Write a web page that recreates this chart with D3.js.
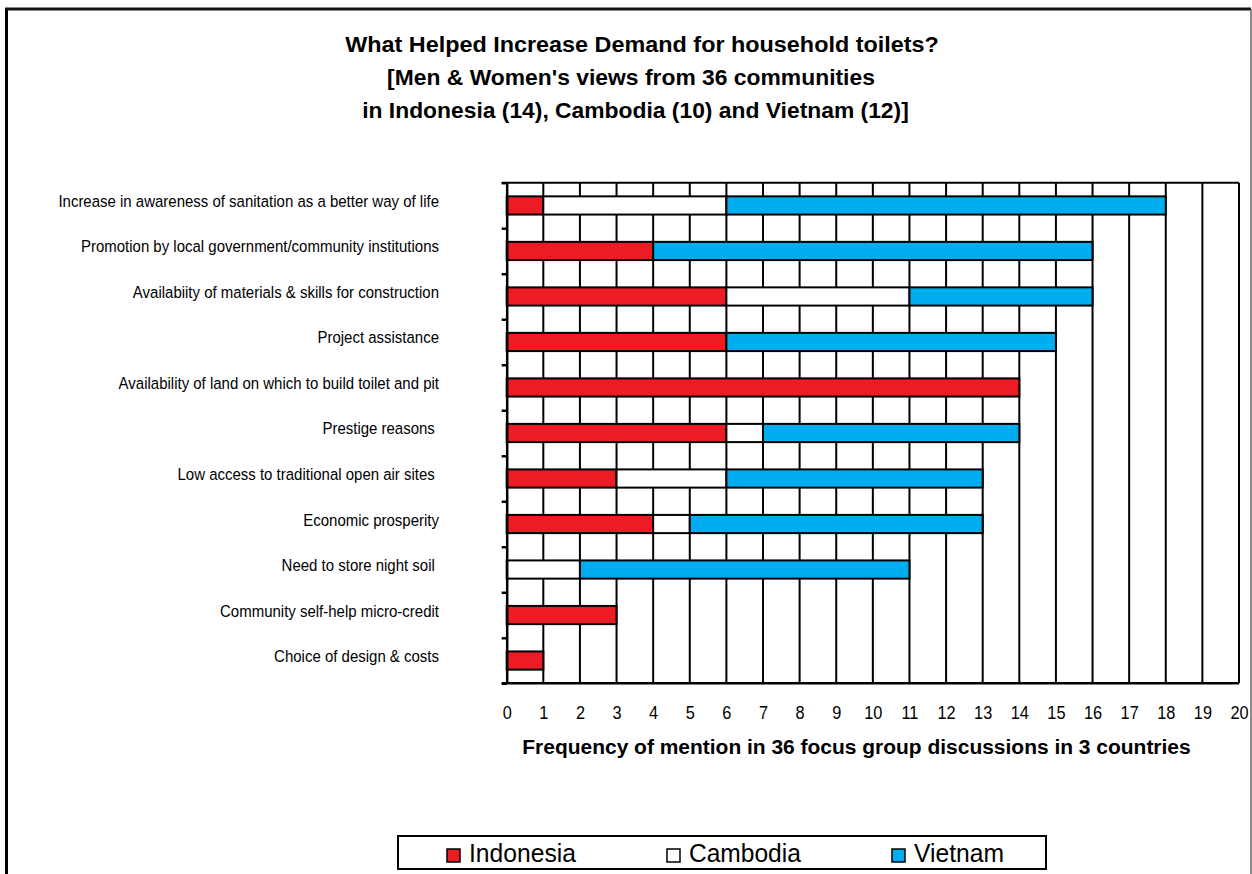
<!DOCTYPE html>
<html>
<head>
<meta charset="utf-8">
<script src="https://cdn.jsdelivr.net/npm/d3@7"></script>
<style>
  body { margin: 0; background: #fff; }
  svg { display: block; font-family: "Liberation Sans", Arial, sans-serif; }
  text { white-space: pre; }
</style>
</head>
<body>
<svg width="1252" height="874"></svg>
<script>
const categories = [
    "Increase in awareness of sanitation as a better way of life",
    "Promotion by local government/community institutions",
    "Availabiity of materials & skills for construction",
    "Project assistance",
    "Availability of land on which to build toilet and pit",
    "Prestige reasons ",
    "Low access to traditional open air sites ",
    "Economic prosperity",
    "Need to store night soil ",
    "Community self-help micro-credit",
    "Choice of design & costs"
]
const indonesia = [1, 4, 6, 6, 14, 6, 3, 4, 0, 3, 1]
const cambodia  = [5, 0, 5, 0, 0, 1, 3, 1, 2, 0, 0]
const vietnam   = [12, 12, 5, 9, 0, 7, 7, 8, 9, 0, 0]
const countries = ["Indonesia", "Cambodia", "Vietnam"]
const colors = ["#ED1C24", "#FFFFFF", "#00AEEF"]
const titleLines = [
    "What Helped Increase Demand for household toilets?",
    "[Men & Women's views from 36 communities",
    "in Indonesia (14), Cambodia (10) and Vietnam (12)]"
]
const xTitle = "Frequency of mention in 36 focus group discussions in 3 countries"

const svg = d3.select('svg')

// narrow the glyphs horizontally (the original text is condensed)
const narrow = (sel, sx) => sel.each(function () {
    const t = d3.select(this)
    t.attr('x', +t.attr('x') / sx)
     .attr('transform', `scale(${sx},1)`)
})
const narrowTo = (sel, target) => sel.each(function () {
    const sx = target / this.getComputedTextLength()
    narrow(d3.select(this), sx)
})

// outer frame
svg.append('line').attr('x1', 6.5).attr('x2', 6.5).attr('y1', 8).attr('y2', 874)
    .attr('stroke', '#000').attr('stroke-width', 3)
svg.append('line').attr('x1', 5).attr('x2', 1251).attr('y1', 9).attr('y2', 9)
    .attr('stroke', '#111').attr('stroke-width', 3)
svg.append('line').attr('x1', 1251).attr('x2', 1251).attr('y1', 9).attr('y2', 874)
    .attr('stroke', '#666').attr('stroke-width', 1.5)

const x = d3.scaleLinear().domain([0, 20]).range([506.7, 1239])
const y = d3.scaleBand().domain(categories).range([182.7, 683.3])
    .paddingInner(0.6).paddingOuter(0.3)
const yEdge = d3.scaleLinear().domain([0, categories.length]).range([182.7, 683.3])

// vertical gridlines
svg.append('g')
    .selectAll('line')
    .data(x.ticks(20).filter(d => d > 0 && d < 20))
    .enter().append('line')
    .attr('x1', d => x(d)).attr('x2', d => x(d))
    .attr('y1', yEdge(0)).attr('y2', yEdge(categories.length))
    .attr('stroke', '#000').attr('stroke-width', 2)

// stacked bars
const table = categories.map((c, i) => ({
    cat: c, Indonesia: indonesia[i], Cambodia: cambodia[i], Vietnam: vietnam[i]
}))
const series = d3.stack().keys(countries)(table)

svg.append('g')
    .selectAll('g')
    .data(series)
    .enter().append('g')
    .attr('fill', (d, i) => colors[i])
    .selectAll('rect')
    .data(d => d.filter(v => v[1] > v[0]))
    .enter().append('rect')
    .attr('x', d => x(d[0]))
    .attr('width', d => x(d[1]) - x(d[0]))
    .attr('y', d => y(d.data.cat))
    .attr('height', y.bandwidth())
    .attr('stroke', '#000').attr('stroke-width', 2)

// plot border top and right
svg.append('line').attr('x1', x(0) - 5).attr('x2', x(20)).attr('y1', yEdge(0)).attr('y2', yEdge(0))
    .attr('stroke', '#000').attr('stroke-width', 2)
svg.append('line').attr('x1', x(20)).attr('x2', x(20)).attr('y1', yEdge(0)).attr('y2', yEdge(categories.length))
    .attr('stroke', '#000').attr('stroke-width', 2)

// y axis with ticks between categories
const yAxis = svg.append('g')
    .attr('transform', `translate(${x(0)},0)`)
    .call(d3.axisLeft(yEdge).tickValues(d3.range(categories.length + 1)).tickFormat('').tickSize(5).tickSizeOuter(0))
yAxis.selectAll('line, path').attr('stroke', '#000').attr('stroke-width', 2.5)

// x axis
const xAxis = svg.append('g')
    .attr('transform', `translate(0,${yEdge(categories.length)})`)
    .call(d3.axisBottom(x).ticks(20).tickSize(0).tickPadding(22).tickSizeOuter(0))
xAxis.select('.domain').attr('d', `M${x(0) - 5},0H${x(20)}`).attr('stroke', '#000').attr('stroke-width', 2.5)
xAxis.selectAll('text')
    .attr('font-family', '"Liberation Sans", Arial, sans-serif')
    .attr('font-size', 19).attr('fill', '#000')
    .attr('transform', 'scale(0.86,1)')

// category labels
const labels = svg.append('g')
    .selectAll('text')
    .data(categories)
    .enter().append('text')
    .attr('x', 439)
    .attr('y', d => y(d) + y.bandwidth() / 2 + 1.5)
    .attr('text-anchor', 'end')
    .attr('font-size', 16.5)
    .attr('fill', '#000')
    .text(d => d)
const k = 381 / labels.node().getComputedTextLength()
narrow(labels, k)

// title
const titleWidths = [594, 488, 547]
const titleCenters = [642, 631, 635.5]
svg.append('g')
    .selectAll('text')
    .data(titleLines)
    .enter().append('text')
    .attr('x', (d, i) => titleCenters[i])
    .attr('y', (d, i) => 52 + i * 33)
    .attr('text-anchor', 'middle')
    .attr('font-size', 21.5).attr('font-weight', 'bold')
    .text(d => d)
    .each(function (d, i) { narrowTo(d3.select(this), titleWidths[i]) })

// x axis title
narrowTo(svg.append('text')
    .attr('x', 856.5).attr('y', 754)
    .attr('text-anchor', 'middle')
    .attr('font-size', 20.5).attr('font-weight', 'bold')
    .text(xTitle), 669)

// legend
svg.append('rect').attr('x', 398).attr('y', 836).attr('width', 648).attr('height', 33)
    .attr('fill', '#fff').attr('stroke', '#000').attr('stroke-width', 2)
const legendX = [447, 667, 892]
const legendW = [107, 112, 90]
const leg = svg.append('g')
    .selectAll('g')
    .data(countries)
    .enter().append('g')
    .attr('transform', (d, i) => `translate(${legendX[i]},0)`)
leg.append('rect')
    .attr('x', 0).attr('y', 849).attr('width', 13).attr('height', 13)
    .attr('fill', (d, i) => colors[i]).attr('stroke', '#000').attr('stroke-width', 1.5)
leg.append('text')
    .attr('x', 22).attr('y', 862)
    .attr('font-size', 25.5)
    .text(d => d)
    .each(function (d, i) { narrowTo(d3.select(this), legendW[i]) })
</script>
</body>
</html>
